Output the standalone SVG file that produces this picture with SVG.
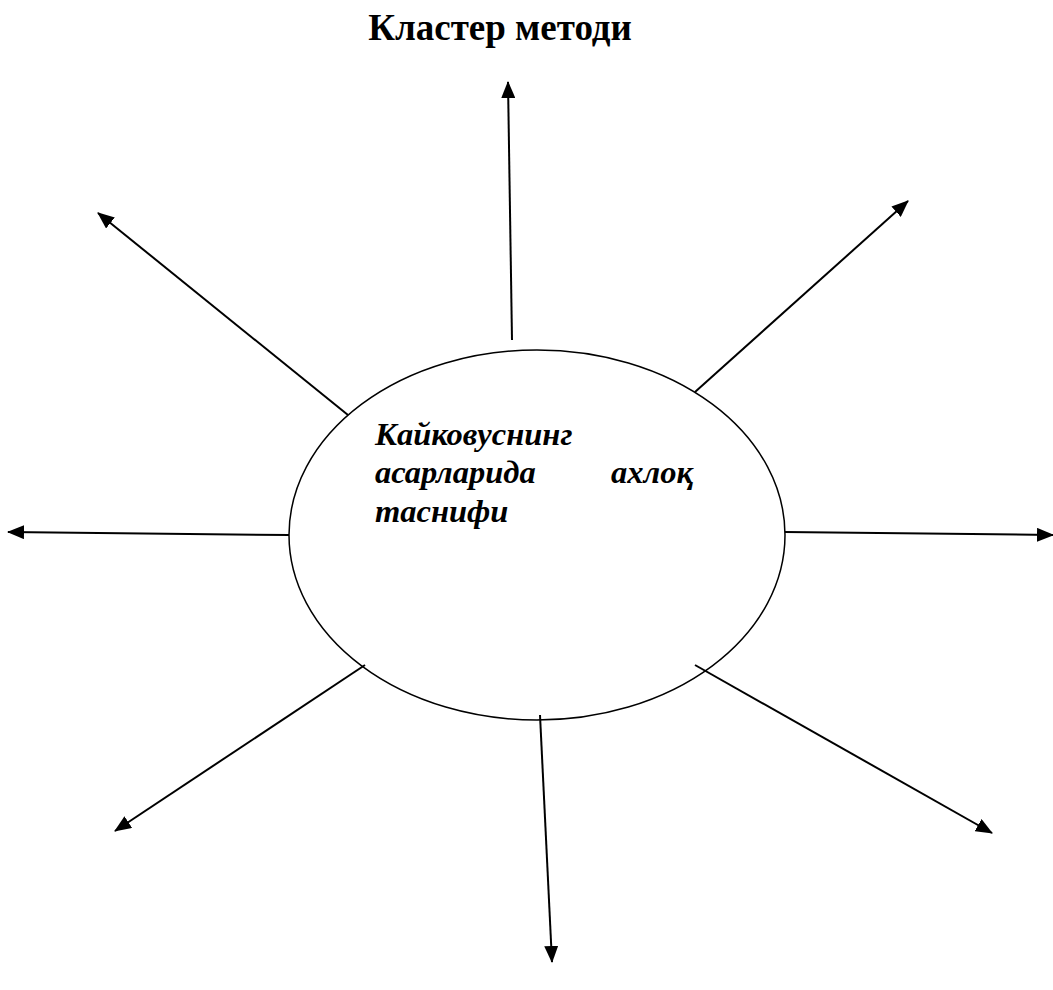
<svg xmlns="http://www.w3.org/2000/svg" width="1053" height="990" viewBox="0 0 1053 990">
<style>
.t{font-family:"Liberation Serif","Times New Roman",serif;fill:#000}
.title{font-size:37px;font-weight:bold}
.lbl{font-size:32.5px;font-weight:bold;font-style:italic}
.c{stroke:#000;stroke-width:2;fill:none;marker-end:url(#ah)}
</style>
<defs>
<marker id="ah" markerUnits="userSpaceOnUse" markerWidth="18" markerHeight="14" refX="16" refY="7" orient="auto">
<path d="M0,0 L17,7 L0,14 Z" fill="#000"/>
</marker>
</defs>
<rect width="1053" height="990" fill="#fff"/>
<text class="t title" x="500" y="40" text-anchor="middle">Кластер методи</text>
<g id="center">
<ellipse cx="537" cy="535" rx="248" ry="185" fill="#fff" stroke="#000" stroke-width="1.5"/>
<text class="t lbl" x="375" y="445">Кайковуснинг</text>
<text class="t lbl" x="375" y="483">асарларида</text>
<text class="t lbl" x="693" y="483" text-anchor="end">ахлоқ</text>
<text class="t lbl" x="375" y="522">таснифи</text>
</g>
<g id="connectors">
<line class="c" x1="512" y1="340" x2="508" y2="82"/>
<line class="c" x1="695" y1="392" x2="908" y2="201"/>
<line class="c" x1="785" y1="532" x2="1053" y2="535"/>
<line class="c" x1="695" y1="665" x2="992" y2="833"/>
<line class="c" x1="540" y1="715" x2="552" y2="962"/>
<line class="c" x1="365" y1="665" x2="115" y2="831"/>
<line class="c" x1="289" y1="535" x2="8" y2="532"/>
<line class="c" x1="348" y1="415" x2="98" y2="213"/>
</g>
</svg>
